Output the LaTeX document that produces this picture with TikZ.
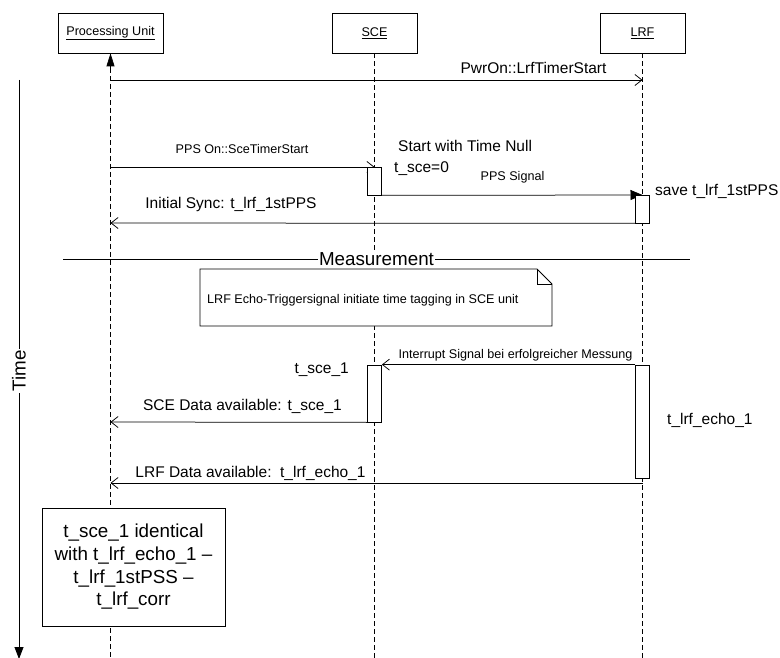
\documentclass[tikz,border=0pt]{standalone}
\usepackage{fontspec}
\setmainfont{Liberation Sans}
\usetikzlibrary{arrows.meta}

\tikzset{
  head/.style={draw, fill=white, line width=0.75pt, minimum width=105pt, minimum height=40pt,
    inner sep=0pt, font=\fontsize{12.6}{15}\selectfont},
  lifeline/.style={line width=0.6pt, dash pattern=on 5pt off 3pt},
  msg/.style={line width=0.75pt, -{Straight Barb[length=7pt,width=11pt]}},
  sig/.style={line width=0.75pt, -{Triangle[length=12pt,width=10pt]}},
  act/.style={draw, fill=white, line width=0.75pt, minimum width=14pt, inner sep=0pt},
  lbl/.style={inner sep=0pt, anchor=base, font=\fontsize{15.5}{18}\selectfont},
  small/.style={inner sep=0pt, anchor=base, font=\fontsize{12.6}{15}\selectfont},
  big/.style={font=\fontsize{18.8}{22.7}\selectfont},
}

\begin{document}
\begin{tikzpicture}[x=1pt, y=-1pt]
\useasboundingbox (0,0) rectangle (780,658);

% object heads
\node[head] (pu)  at (110.5,33) {\underline{Processing Unit}};
\node[head, minimum width=85pt] (sce) at (374.5,33) {\underline{SCE}};
\node[head, minimum width=85pt] (lrf) at (642.5,33) {\underline{LRF}};

% lifelines
\coordinate (puTip) at (110.5,68);
\draw[line width=0.75pt, -{Triangle[length=13pt,width=8pt]}] (puTip) -- (pu.south);
\draw[lifeline] (puTip) -- (110.5,658);
\draw[lifeline] (sce.south) -- (374.5,658);
\draw[lifeline] (lrf.south) -- (642.5,658);

% time axis
\coordinate (t0) at (19,80);
\coordinate (t1) at (19,659);
\draw[line width=0.75pt, -{Triangle[length=12pt,width=9pt]}] (t0) -- (t1);
\node[big, fill=white, inner sep=1pt, rotate=90] (time) at (19,371) {Time};

% message anchor points on lifelines
\coordinate (pu80)  at (110.5,80);
\coordinate (lrf80) at (642.5,80);
\coordinate (pu167) at (110.5,167);
\coordinate (sce167) at (374.5,167);
\coordinate (lrf195) at (642.5,195);
\coordinate (pu223) at (110.5,223);
\coordinate (pu422) at (110.5,422);
\coordinate (lrf483) at (642.5,483);
\coordinate (pu483) at (110.5,483);

% messages
\draw[msg] (pu80) -- (lrf80);
\draw[msg] (pu167) -- (sce167);

% activation bars (first phase)
\node[act, minimum height=28pt] (sce1) at (374.5,181) {};
\draw[sig] (sce1.south east) -- (lrf195);
\node[act, minimum height=28pt] (lrf1) at (642.5,209) {};
\draw[msg] (lrf1.south west) -- (pu223);

% measurement separator
\coordinate (m0) at (63,259);
\coordinate (m1) at (690,259);
\draw[line width=0.75pt] (m0) -- (m1);
\node[big, fill=white, inner sep=1.5pt] (meas) at (376.5,259) {Measurement};

% note
\draw[line width=0.75pt, fill=white] (200,269) -- (537,269) -- (552,284) -- (552,326) -- (200,326) -- cycle;
\draw[line width=0.75pt] (537,269) -- (537,284) -- (552,284);
\node[small, anchor=base west] (note) at (207,303) {LRF Echo-Triggersignal initiate time tagging in SCE unit};

% activation bars (measurement phase)
\node[act, minimum height=57pt] (sce2) at (374.5,393.5) {};
\node[act, minimum height=113pt] (lrf2) at (642.5,421.5) {};
\draw[msg] (lrf2.north west) -- (sce2.north east);
\draw[msg] (sce2.south west) -- (pu422);
\draw[msg] (lrf483) -- (pu483);

% result box
\node[draw, fill=white, line width=0.75pt, minimum width=183pt, minimum height=118pt,
      align=center, big] (res) at (133.5,567)
  {t\_sce\_1 identical\\with t\_lrf\_echo\_1 --\\t\_lrf\_1stPSS --\\t\_lrf\_corr};

% labels
\node[lbl] (l1) at (533.5,74) {PwrOn::LrfTimerStart};
\node[small] (l2) at (242,154) {PPS On::SceTimerStart};
\node[lbl, anchor=base west] (l3) at (398,152) {Start with Time Null};
\node[lbl, anchor=base west] (l4) at (394,173) {t\_sce=0};
\node[small] (l5) at (512.5,181) {PPS Signal};
\node[lbl, anchor=base west] (l6) at (655,196) {save t\_lrf\_1stPPS};
\node[lbl] (l7) at (231,208) {Initial Sync: t\_lrf\_1stPPS};
\node[small] (l8) at (515.5,358) {Interrupt Signal bei erfolgreicher Messung};
\node[lbl, anchor=base east] (l9) at (349,373) {t\_sce\_1};
\node[lbl] (l10) at (242.5,410) {SCE Data available: t\_sce\_1};
\node[lbl, anchor=base west] (l11) at (667,424) {t\_lrf\_echo\_1};
\node[lbl] (l12) at (250.5,477) {LRF Data available:\ \ t\_lrf\_echo\_1};
\end{tikzpicture}
\end{document}
